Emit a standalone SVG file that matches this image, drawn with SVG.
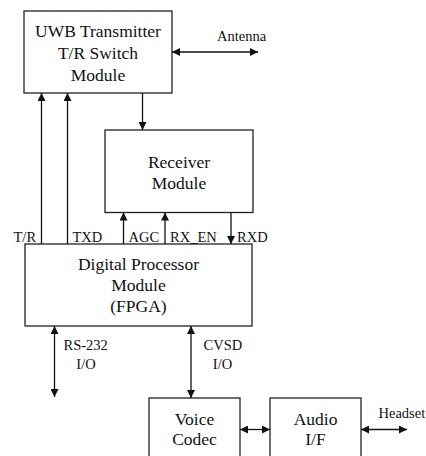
<svg xmlns="http://www.w3.org/2000/svg" width="426" height="456" viewBox="0 0 426 456">
<style>
.box{fill:#fff;stroke:#222;stroke-width:1.3}
text{font-family:'Liberation Serif','Times New Roman',Times,'DejaVu Serif',serif;fill:#111}
.t{font-size:17.5px;text-anchor:middle}
.l{font-size:14.5px}
.c{stroke:#111;stroke-width:1.3;fill:none}
.a{marker-end:url(#ah)}
.d{marker-start:url(#ah);marker-end:url(#ah)}
</style>
<defs>
<marker id="ah" viewBox="0 0 10 10" refX="10" refY="5" markerUnits="userSpaceOnUse" markerWidth="9" markerHeight="8" orient="auto-start-reverse">
<path d="M0,0 L10,5 L0,10 z" fill="#111"/>
</marker>
</defs>
<rect width="426" height="456" fill="#fff"/>
<g id="uwb">
<rect class="box" x="24" y="11" width="148" height="82"/>
<text class="t" x="98" y="37">UWB Transmitter</text>
<text class="t" x="98" y="59">T/R Switch</text>
<text class="t" x="98" y="81">Module</text>
</g>
<g id="receiver">
<rect class="box" x="105" y="130" width="148" height="82.5"/>
<text class="t" x="179" y="168">Receiver</text>
<text class="t" x="179" y="189">Module</text>
</g>
<g id="dsp">
<rect class="box" x="25" y="244" width="227" height="82"/>
<text class="t" x="138.5" y="270">Digital Processor</text>
<text class="t" x="138.5" y="291">Module</text>
<text class="t" x="138.5" y="312">(FPGA)</text>
</g>
<g id="codec">
<rect class="box" x="149" y="398" width="91" height="70"/>
<text class="t" x="194.5" y="425">Voice</text>
<text class="t" x="194.5" y="445">Codec</text>
</g>
<g id="audio">
<rect class="box" x="270" y="398" width="91" height="70"/>
<text class="t" x="315.5" y="425">Audio</text>
<text class="t" x="315.5" y="445">I/F</text>
</g>
<g id="connectors">
<line class="c a" x1="41.5" y1="244" x2="41.5" y2="93"/>
<line class="c a" x1="67.5" y1="244" x2="67.5" y2="93"/>
<line class="c a" x1="142.5" y1="93" x2="142.5" y2="130"/>
<line class="c d" x1="172" y1="52" x2="258" y2="52"/>
<line class="c a" x1="123.5" y1="244" x2="123.5" y2="212.5"/>
<line class="c a" x1="165" y1="244" x2="165" y2="212.5"/>
<line class="c a" x1="231" y1="212.5" x2="231" y2="244"/>
<line class="c d" x1="54.5" y1="326" x2="54.5" y2="397"/>
<line class="c d" x1="191" y1="326" x2="191" y2="398"/>
<line class="c d" x1="240" y1="429.5" x2="270" y2="429.5"/>
<line class="c d" x1="361" y1="429.5" x2="407" y2="429.5"/>
</g>
<g id="labels">
<text class="l" x="217" y="41">Antenna</text>
<text class="l" x="13.5" y="242">T/R</text>
<text class="l" x="72.5" y="242">TXD</text>
<text class="l" x="128.5" y="242">AGC</text>
<text class="l" x="170" y="242">RX_EN</text>
<text class="l" x="237" y="242">RXD</text>
<text class="l" x="63.5" y="350">RS-232</text>
<text class="l" x="86" y="369" text-anchor="middle">I/O</text>
<text class="l" x="203.5" y="350">CVSD</text>
<text class="l" x="222.5" y="369" text-anchor="middle">I/O</text>
<text class="l" x="378.5" y="418">Headset</text>
</g>
</svg>
